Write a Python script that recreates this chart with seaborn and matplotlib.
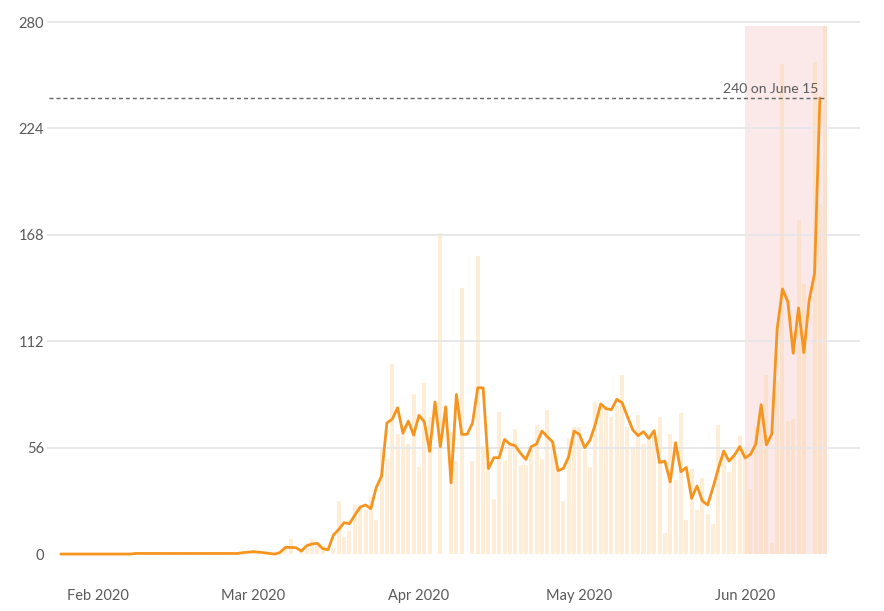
import seaborn as sns
import matplotlib.pyplot as plt
import matplotlib.dates as mdates
import numpy as np
import pandas as pd

# daily counts (bars), Jan 24 - Jun 16 2020
bars_jan = [0, 0, 0, 0, 0, 0, 0, 0]
bars_feb = [0, 0, 0, 0, 0, 0, 0, 1, 0, 0, 1, 0, 0, 0, 1, 0, 0, 1, 0, 0, 1, 0,
            1, 0, 0, 1, 0, 1, 1]
bars_mar = [2, 1, 0, 0, 0, 0, 3, 8, 0, 2, 3, 8, 4, 4, 0, 3, 28, 9, 12, 26, 24,
            23, 30, 18, 56, 50, 100, 63, 63, 58, 84]
bars_apr = [46, 90, 72, 0, 169, 0, 64, 49, 140, 0, 49, 157, 57, 49, 29, 75, 49,
            58, 66, 47, 47, 56, 68, 50, 76, 59, 45, 28, 61, 67]
bars_may = [67, 55, 46, 80, 79, 78, 72, 78, 94, 67, 56, 73, 58, 62, 62, 72, 11,
            63, 39, 74, 18, 45, 23, 40, 21, 16, 68, 53, 43, 52, 62]
bars_jun = [56, 34, 67, 72, 94, 6, 91, 258, 70, 71, 176, 142, 0, 259, 184, 278]

# average line, Jan 25 - Jun 15 2020
avg_jan = [0, 0, 0, 0, 0, 0, 0]
avg_feb = [0] * 7 + [0.3] * 20 + [0.7, 1.0]
avg_mar = [1.2, 1.0, 0.7, 0.3, 0.0, 0.8, 3.5, 3.5, 3.3, 1.6, 4.4, 5.3, 5.6, 2.8,
           2.3, 10.0, 13.0, 16.5, 16.0, 20.5, 24.7, 25.8, 23.9, 35.0, 41.0,
           69.0, 71.0, 77.0, 63.6, 70.0, 62.6]
avg_apr = [73.0, 69.6, 54.0, 80.0, 56.5, 77.5, 37.5, 84.0, 63.0, 63.0, 68.8,
           87.5, 87.5, 45.0, 50.7, 50.7, 60.3, 57.9, 57.0, 53.0, 49.8, 56.5,
           57.9, 64.7, 61.8, 59.0, 43.9, 45.0, 51.2, 64.7]
avg_may = [63.0, 56.0, 60.0, 68.4, 79.0, 76.5, 76.0, 81.4, 79.6, 72.3, 65.3,
           62.3, 64.4, 60.9, 64.9, 48.2, 48.9, 38.0, 58.6, 43.3, 45.6, 29.3,
           35.8, 28.0, 25.8, 35.0, 45.0, 54.2, 48.9, 52.0, 56.5]
avg_jun = [50.6, 52.4, 57.8, 78.6, 57.5, 63.2, 118.3, 139.5, 132.8, 105.7,
           129.5, 106.0, 133.7, 147.6, 240.0]

y_ticks = [0, 56, 112, 168, 224, 280]
peak_value = 240
peak_label = "240 on June 15"
shade_top = 278

bar_dates = pd.date_range("2020-01-24", "2020-06-16", freq="D")
line_dates = pd.date_range("2020-01-25", "2020-06-15", freq="D")
bar_values = bars_jan + bars_feb + bars_mar + bars_apr + bars_may + bars_jun
avg_values = avg_jan + avg_feb + avg_mar + avg_apr + avg_may + avg_jun
df = pd.DataFrame({"date": line_dates, "avg": avg_values})

sns.set_style("white")
plt.rcParams["font.family"] = ["Lato", "DejaVu Sans"]

fig = plt.figure(figsize=(8.84, 6.11), dpi=100)
ax = fig.add_axes([47 / 884, 1 - 568.1 / 611, 813 / 884, 548 / 611])

# highlighted period
shade_x = [pd.Timestamp("2020-06-01"), pd.Timestamp("2020-06-16 09:00")]
ax.fill_between(shade_x, 0, shade_top, color="#f4b6b6", alpha=0.3, lw=0, zorder=0)

ax.bar(bar_dates, bar_values, width=0.75, color="#fdd9a8", alpha=0.45, lw=0, zorder=1)

for y in y_ticks[1:]:
    ax.axhline(y, color="#e6e6e6", lw=1.3, zorder=2)

sns.lineplot(data=df, x="date", y="avg", ax=ax, color="#f7941e", lw=2.0, zorder=3)

xmin = pd.Timestamp("2020-01-22 10:00")
xmax = pd.Timestamp("2020-06-22 12:00")
ax.hlines(peak_value, pd.Timestamp("2020-01-22 18:00"), pd.Timestamp("2020-06-16 02:00"),
          color="#666666", lw=1.0, linestyles=(0, (2.9, 2.1)), zorder=4)
ax.text(pd.Timestamp("2020-06-14 16:00"), peak_value + 1.5, peak_label,
        ha="right", va="bottom", fontsize=10, color="#5a5a5a", zorder=5)

ax.set_xlim(xmin, xmax)
ax.set_ylim(-7.4, 281)
ax.set_yticks(y_ticks)
ax.xaxis.set_major_locator(mdates.MonthLocator(bymonth=[2, 3, 4, 5, 6]))
ax.xaxis.set_major_formatter(mdates.DateFormatter("%b %Y"))
ax.tick_params(axis="x", length=10, width=0.8, color="#dddddd", pad=5,
               labelsize=10.5, labelcolor="#5a5a5a")
ax.tick_params(axis="y", length=0, pad=2, labelsize=10.5, labelcolor="#5a5a5a")
ax.set_xlabel("")
ax.set_ylabel("")
sns.despine(ax=ax, left=True, bottom=True)

fig.savefig("out.png", dpi=100)
